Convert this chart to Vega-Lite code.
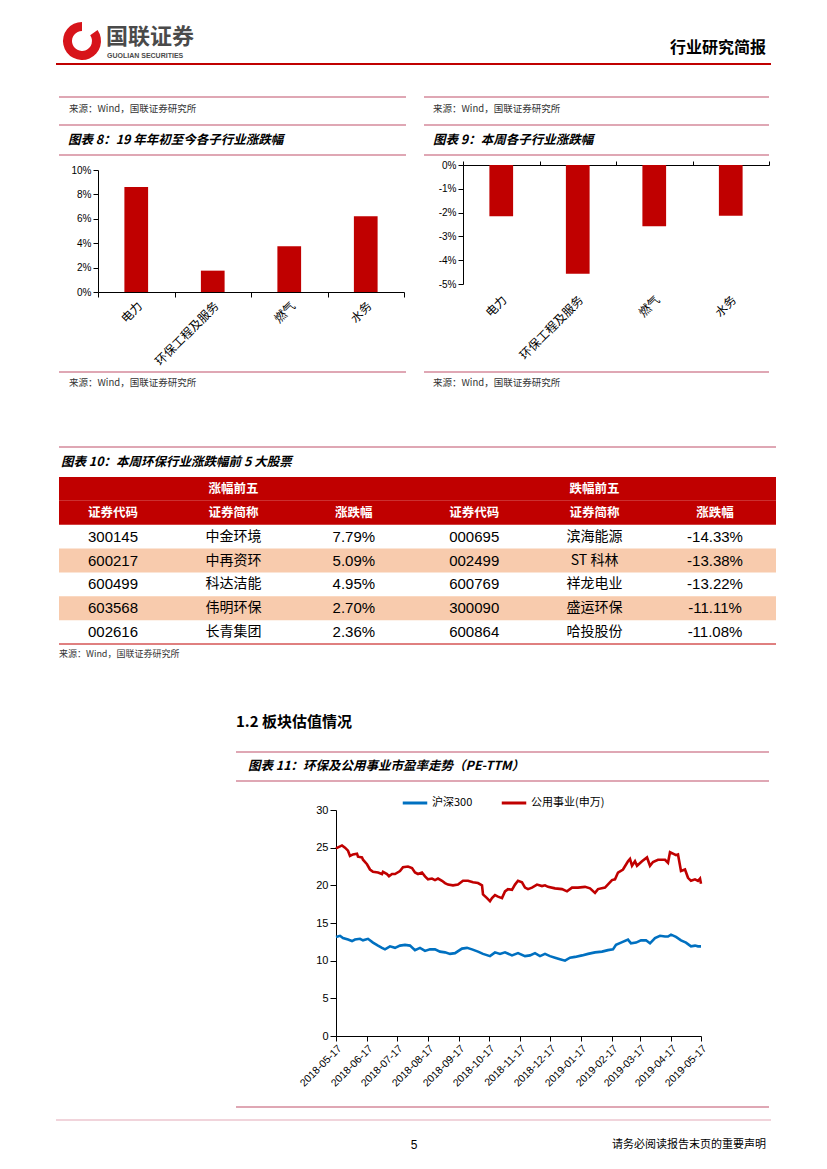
{
"$schema": "https://vega.github.io/schema/vega-lite/v6.json",
"padding": {"left": 55, "top": 20, "right": 0, "bottom": 0},
"background": "white",
"config": {"view": {"stroke": null}, "font": "Noto Sans CJK SC", "axis": {"labelColor": "#000", "domainColor": "#000", "tickColor": "#000", "grid": false, "title": null}},
"datasets": {
"one": [{}],
"logo": [{"seg": "gap", "share": 55}, {"seg": "ring", "share": 305}],
"ind8": [{"industry": "电力", "change": 0.086}, {"industry": "环保工程及服务", "change": 0.0175}, {"industry": "燃气", "change": 0.0375}, {"industry": "水务", "change": 0.062}],
"ind9": [{"industry": "电力", "change": -0.0215}, {"industry": "环保工程及服务", "change": -0.0457}, {"industry": "燃气", "change": -0.0257}, {"industry": "水务", "change": -0.0213}],
"bands": [{"row": "g", "kind": "head"}, {"row": "h", "kind": "head"}, {"row": "2", "kind": "stripe"}, {"row": "4", "kind": "stripe"}],
"cells": [
{"row": "g", "col": 2, "text": "涨幅前五"}, {"row": "g", "col": 5, "text": "跌幅前五"},
{"row": "h", "col": 1, "text": "证券代码"}, {"row": "h", "col": 2, "text": "证券简称"}, {"row": "h", "col": 3, "text": "涨跌幅"}, {"row": "h", "col": 4, "text": "证券代码"}, {"row": "h", "col": 5, "text": "证券简称"}, {"row": "h", "col": 6, "text": "涨跌幅"},
{"row": "1", "col": 1, "text": "300145"}, {"row": "1", "col": 2, "text": "中金环境"}, {"row": "1", "col": 3, "text": "7.79%"}, {"row": "1", "col": 4, "text": "000695"}, {"row": "1", "col": 5, "text": "滨海能源"}, {"row": "1", "col": 6, "text": "-14.33%"},
{"row": "2", "col": 1, "text": "600217"}, {"row": "2", "col": 2, "text": "中再资环"}, {"row": "2", "col": 3, "text": "5.09%"}, {"row": "2", "col": 4, "text": "002499"}, {"row": "2", "col": 5, "text": "ST 科林"}, {"row": "2", "col": 6, "text": "-13.38%"},
{"row": "3", "col": 1, "text": "600499"}, {"row": "3", "col": 2, "text": "科达洁能"}, {"row": "3", "col": 3, "text": "4.95%"}, {"row": "3", "col": 4, "text": "600769"}, {"row": "3", "col": 5, "text": "祥龙电业"}, {"row": "3", "col": 6, "text": "-13.22%"},
{"row": "4", "col": 1, "text": "603568"}, {"row": "4", "col": 2, "text": "伟明环保"}, {"row": "4", "col": 3, "text": "2.70%"}, {"row": "4", "col": 4, "text": "300090"}, {"row": "4", "col": 5, "text": "盛运环保"}, {"row": "4", "col": 6, "text": "-11.11%"},
{"row": "5", "col": 1, "text": "002616"}, {"row": "5", "col": 2, "text": "长青集团"}, {"row": "5", "col": 3, "text": "2.36%"}, {"row": "5", "col": 4, "text": "600864"}, {"row": "5", "col": 5, "text": "哈投股份"}, {"row": "5", "col": 6, "text": "-11.08%"}
],
"pe": [
{"date": "2018-05-17", "series": "公用事业(申万)", "pe": 24.9}, {"date": "2018-05-23", "series": "公用事业(申万)", "pe": 25.3}, {"date": "2018-05-26", "series": "公用事业(申万)", "pe": 25.0}, {"date": "2018-05-29", "series": "公用事业(申万)", "pe": 24.6}, {"date": "2018-05-31", "series": "公用事业(申万)", "pe": 23.9}, {"date": "2018-06-03", "series": "公用事业(申万)", "pe": 24.1}, {"date": "2018-06-07", "series": "公用事业(申万)", "pe": 24.2}, {"date": "2018-06-08", "series": "公用事业(申万)", "pe": 23.8}, {"date": "2018-06-12", "series": "公用事业(申万)", "pe": 23.7}, {"date": "2018-06-13", "series": "公用事业(申万)", "pe": 23.4}, {"date": "2018-06-17", "series": "公用事业(申万)", "pe": 22.8}, {"date": "2018-06-20", "series": "公用事业(申万)", "pe": 22.1}, {"date": "2018-06-23", "series": "公用事业(申万)", "pe": 21.8}, {"date": "2018-06-28", "series": "公用事业(申万)", "pe": 21.7}, {"date": "2018-07-02", "series": "公用事业(申万)", "pe": 21.5}, {"date": "2018-07-03", "series": "公用事业(申万)", "pe": 21.8}, {"date": "2018-07-07", "series": "公用事业(申万)", "pe": 21.5}, {"date": "2018-07-09", "series": "公用事业(申万)", "pe": 21.2}, {"date": "2018-07-12", "series": "公用事业(申万)", "pe": 21.5}, {"date": "2018-07-15", "series": "公用事业(申万)", "pe": 21.5}, {"date": "2018-07-20", "series": "公用事业(申万)", "pe": 21.9}, {"date": "2018-07-23", "series": "公用事业(申万)", "pe": 22.4}, {"date": "2018-07-28", "series": "公用事业(申万)", "pe": 22.5}, {"date": "2018-08-01", "series": "公用事业(申万)", "pe": 22.3}, {"date": "2018-08-04", "series": "公用事业(申万)", "pe": 21.7}, {"date": "2018-08-07", "series": "公用事业(申万)", "pe": 21.5}, {"date": "2018-08-11", "series": "公用事业(申万)", "pe": 21.7}, {"date": "2018-08-14", "series": "公用事业(申万)", "pe": 21.2}, {"date": "2018-08-17", "series": "公用事业(申万)", "pe": 20.8}, {"date": "2018-08-21", "series": "公用事业(申万)", "pe": 20.9}, {"date": "2018-08-24", "series": "公用事业(申万)", "pe": 20.7}, {"date": "2018-08-27", "series": "公用事业(申万)", "pe": 20.9}, {"date": "2018-08-31", "series": "公用事业(申万)", "pe": 20.6}, {"date": "2018-09-03", "series": "公用事业(申万)", "pe": 20.3}, {"date": "2018-09-06", "series": "公用事业(申万)", "pe": 20.1}, {"date": "2018-09-11", "series": "公用事业(申万)", "pe": 20.0}, {"date": "2018-09-16", "series": "公用事业(申万)", "pe": 20.1}, {"date": "2018-09-21", "series": "公用事业(申万)", "pe": 20.6}, {"date": "2018-09-26", "series": "公用事业(申万)", "pe": 20.6}, {"date": "2018-10-01", "series": "公用事业(申万)", "pe": 20.4}, {"date": "2018-10-06", "series": "公用事业(申万)", "pe": 20.3}, {"date": "2018-10-10", "series": "公用事业(申万)", "pe": 20.0}, {"date": "2018-10-11", "series": "公用事业(申万)", "pe": 18.8}, {"date": "2018-10-15", "series": "公用事业(申万)", "pe": 18.3}, {"date": "2018-10-18", "series": "公用事业(申万)", "pe": 17.9}, {"date": "2018-10-20", "series": "公用事业(申万)", "pe": 18.3}, {"date": "2018-10-23", "series": "公用事业(申万)", "pe": 18.7}, {"date": "2018-10-26", "series": "公用事业(申万)", "pe": 18.5}, {"date": "2018-10-30", "series": "公用事业(申万)", "pe": 18.3}, {"date": "2018-11-02", "series": "公用事业(申万)", "pe": 19.2}, {"date": "2018-11-05", "series": "公用事业(申万)", "pe": 19.5}, {"date": "2018-11-09", "series": "公用事业(申万)", "pe": 19.4}, {"date": "2018-11-12", "series": "公用事业(申万)", "pe": 20.1}, {"date": "2018-11-15", "series": "公用事业(申万)", "pe": 20.6}, {"date": "2018-11-19", "series": "公用事业(申万)", "pe": 20.4}, {"date": "2018-11-22", "series": "公用事业(申万)", "pe": 19.7}, {"date": "2018-11-25", "series": "公用事业(申万)", "pe": 19.5}, {"date": "2018-11-29", "series": "公用事业(申万)", "pe": 19.7}, {"date": "2018-12-04", "series": "公用事业(申万)", "pe": 20.1}, {"date": "2018-12-09", "series": "公用事业(申万)", "pe": 19.9}, {"date": "2018-12-12", "series": "公用事业(申万)", "pe": 20.0}, {"date": "2018-12-15", "series": "公用事业(申万)", "pe": 19.8}, {"date": "2018-12-22", "series": "公用事业(申万)", "pe": 19.6}, {"date": "2018-12-29", "series": "公用事业(申万)", "pe": 19.5}, {"date": "2019-01-03", "series": "公用事业(申万)", "pe": 19.2}, {"date": "2019-01-08", "series": "公用事业(申万)", "pe": 19.7}, {"date": "2019-01-14", "series": "公用事业(申万)", "pe": 19.7}, {"date": "2019-01-21", "series": "公用事业(申万)", "pe": 19.8}, {"date": "2019-01-26", "series": "公用事业(申万)", "pe": 19.6}, {"date": "2019-01-31", "series": "公用事业(申万)", "pe": 19.0}, {"date": "2019-02-03", "series": "公用事业(申万)", "pe": 19.5}, {"date": "2019-02-10", "series": "公用事业(申万)", "pe": 19.7}, {"date": "2019-02-17", "series": "公用事业(申万)", "pe": 20.7}, {"date": "2019-02-20", "series": "公用事业(申万)", "pe": 20.8}, {"date": "2019-02-23", "series": "公用事业(申万)", "pe": 21.7}, {"date": "2019-02-28", "series": "公用事业(申万)", "pe": 22.1}, {"date": "2019-03-05", "series": "公用事业(申万)", "pe": 23.2}, {"date": "2019-03-07", "series": "公用事业(申万)", "pe": 23.5}, {"date": "2019-03-09", "series": "公用事业(申万)", "pe": 22.6}, {"date": "2019-03-12", "series": "公用事业(申万)", "pe": 23.2}, {"date": "2019-03-14", "series": "公用事业(申万)", "pe": 22.6}, {"date": "2019-03-19", "series": "公用事业(申万)", "pe": 23.2}, {"date": "2019-03-24", "series": "公用事业(申万)", "pe": 23.7}, {"date": "2019-03-27", "series": "公用事业(申万)", "pe": 22.6}, {"date": "2019-03-30", "series": "公用事业(申万)", "pe": 23.1}, {"date": "2019-04-04", "series": "公用事业(申万)", "pe": 23.4}, {"date": "2019-04-11", "series": "公用事业(申万)", "pe": 23.4}, {"date": "2019-04-14", "series": "公用事业(申万)", "pe": 23.0}, {"date": "2019-04-16", "series": "公用事业(申万)", "pe": 24.4}, {"date": "2019-04-19", "series": "公用事业(申万)", "pe": 24.2}, {"date": "2019-04-22", "series": "公用事业(申万)", "pe": 24.0}, {"date": "2019-04-24", "series": "公用事业(申万)", "pe": 24.1}, {"date": "2019-04-27", "series": "公用事业(申万)", "pe": 21.9}, {"date": "2019-05-01", "series": "公用事业(申万)", "pe": 22.1}, {"date": "2019-05-04", "series": "公用事业(申万)", "pe": 21.0}, {"date": "2019-05-07", "series": "公用事业(申万)", "pe": 20.6}, {"date": "2019-05-11", "series": "公用事业(申万)", "pe": 20.8}, {"date": "2019-05-14", "series": "公用事业(申万)", "pe": 20.6}, {"date": "2019-05-16", "series": "公用事业(申万)", "pe": 20.9}, {"date": "2019-05-17", "series": "公用事业(申万)", "pe": 20.2},
{"date": "2018-05-17", "series": "沪深300", "pe": 13.15}, {"date": "2018-05-21", "series": "沪深300", "pe": 13.3}, {"date": "2018-05-24", "series": "沪深300", "pe": 13.0}, {"date": "2018-05-29", "series": "沪深300", "pe": 12.8}, {"date": "2018-06-02", "series": "沪深300", "pe": 12.6}, {"date": "2018-06-05", "series": "沪深300", "pe": 12.8}, {"date": "2018-06-10", "series": "沪深300", "pe": 12.9}, {"date": "2018-06-13", "series": "沪深300", "pe": 12.7}, {"date": "2018-06-18", "series": "沪深300", "pe": 12.9}, {"date": "2018-06-23", "series": "沪深300", "pe": 12.4}, {"date": "2018-06-28", "series": "沪深300", "pe": 12.0}, {"date": "2018-07-02", "series": "沪深300", "pe": 11.7}, {"date": "2018-07-05", "series": "沪深300", "pe": 11.5}, {"date": "2018-07-10", "series": "沪深300", "pe": 11.9}, {"date": "2018-07-15", "series": "沪深300", "pe": 11.7}, {"date": "2018-07-20", "series": "沪深300", "pe": 12.0}, {"date": "2018-07-25", "series": "沪深300", "pe": 12.1}, {"date": "2018-07-30", "series": "沪深300", "pe": 12.0}, {"date": "2018-08-04", "series": "沪深300", "pe": 11.4}, {"date": "2018-08-09", "series": "沪深300", "pe": 11.7}, {"date": "2018-08-14", "series": "沪深300", "pe": 11.3}, {"date": "2018-08-19", "series": "沪深300", "pe": 11.5}, {"date": "2018-08-24", "series": "沪深300", "pe": 11.5}, {"date": "2018-08-29", "series": "沪深300", "pe": 11.2}, {"date": "2018-09-03", "series": "沪深300", "pe": 11.1}, {"date": "2018-09-08", "series": "沪深300", "pe": 10.9}, {"date": "2018-09-13", "series": "沪深300", "pe": 11.0}, {"date": "2018-09-20", "series": "沪深300", "pe": 11.6}, {"date": "2018-09-25", "series": "沪深300", "pe": 11.7}, {"date": "2018-09-30", "series": "沪深300", "pe": 11.5}, {"date": "2018-10-06", "series": "沪深300", "pe": 11.2}, {"date": "2018-10-11", "series": "沪深300", "pe": 10.9}, {"date": "2018-10-18", "series": "沪深300", "pe": 10.6}, {"date": "2018-10-23", "series": "沪深300", "pe": 11.1}, {"date": "2018-10-28", "series": "沪深300", "pe": 10.9}, {"date": "2018-11-02", "series": "沪深300", "pe": 11.1}, {"date": "2018-11-09", "series": "沪深300", "pe": 10.7}, {"date": "2018-11-15", "series": "沪深300", "pe": 11.0}, {"date": "2018-11-22", "series": "沪深300", "pe": 10.6}, {"date": "2018-11-27", "series": "沪深300", "pe": 10.7}, {"date": "2018-12-02", "series": "沪深300", "pe": 11.0}, {"date": "2018-12-07", "series": "沪深300", "pe": 10.6}, {"date": "2018-12-12", "series": "沪深300", "pe": 10.9}, {"date": "2018-12-17", "series": "沪深300", "pe": 10.6}, {"date": "2018-12-22", "series": "沪深300", "pe": 10.4}, {"date": "2018-12-27", "series": "沪深300", "pe": 10.2}, {"date": "2019-01-01", "series": "沪深300", "pe": 10.0}, {"date": "2019-01-06", "series": "沪深300", "pe": 10.4}, {"date": "2019-01-11", "series": "沪深300", "pe": 10.5}, {"date": "2019-01-18", "series": "沪深300", "pe": 10.7}, {"date": "2019-01-24", "series": "沪深300", "pe": 10.9}, {"date": "2019-01-31", "series": "沪深300", "pe": 11.1}, {"date": "2019-02-07", "series": "沪深300", "pe": 11.2}, {"date": "2019-02-13", "series": "沪深300", "pe": 11.4}, {"date": "2019-02-18", "series": "沪深300", "pe": 11.5}, {"date": "2019-02-21", "series": "沪深300", "pe": 12.1}, {"date": "2019-02-26", "series": "沪深300", "pe": 12.4}, {"date": "2019-03-05", "series": "沪深300", "pe": 12.8}, {"date": "2019-03-08", "series": "沪深300", "pe": 12.3}, {"date": "2019-03-13", "series": "沪深300", "pe": 12.4}, {"date": "2019-03-18", "series": "沪深300", "pe": 12.7}, {"date": "2019-03-23", "series": "沪深300", "pe": 12.7}, {"date": "2019-03-27", "series": "沪深300", "pe": 12.3}, {"date": "2019-04-01", "series": "沪深300", "pe": 13.0}, {"date": "2019-04-06", "series": "沪深300", "pe": 13.3}, {"date": "2019-04-11", "series": "沪深300", "pe": 13.2}, {"date": "2019-04-14", "series": "沪深300", "pe": 13.2}, {"date": "2019-04-17", "series": "沪深300", "pe": 13.45}, {"date": "2019-04-22", "series": "沪深300", "pe": 13.15}, {"date": "2019-04-27", "series": "沪深300", "pe": 12.7}, {"date": "2019-05-02", "series": "沪深300", "pe": 12.4}, {"date": "2019-05-07", "series": "沪深300", "pe": 11.9}, {"date": "2019-05-11", "series": "沪深300", "pe": 12.0}, {"date": "2019-05-14", "series": "沪深300", "pe": 11.9}, {"date": "2019-05-17", "series": "沪深300", "pe": 11.9}
]
},
"data": {"name": "one"},
"spacing": 0,
"bounds": "flush",
"resolve": {"scale": {"color": "independent"}},
"vconcat": [
{"width": 715, "height": 44, "layer": [
 {"mark": {"type": "rule", "color": "#C00000", "strokeWidth": 2}, "encoding": {"y": {"datum": 44, "type": "quantitative", "scale": {"domain": [0, 44], "nice": false, "zero": false, "reverse": true}, "axis": null}}},
 {"data": {"name": "logo"}, "mark": {"type": "arc", "outerRadius": 19, "innerRadius": 10}, "encoding": {"x": {"datum": 26, "type": "quantitative", "scale": {"domain": [0, 715], "nice": false, "zero": false}, "axis": null}, "y": {"datum": 21, "type": "quantitative", "scale": {"domain": [0, 44], "nice": false, "zero": false, "reverse": true}, "axis": null}, "theta": {"field": "share", "type": "quantitative"}, "color": {"field": "seg", "type": "nominal", "scale": {"domain": ["gap", "ring"], "range": ["#ffffff", "#D7141A"]}, "legend": null}, "order": {"field": "seg", "type": "ordinal"}}},
 {"mark": {"type": "text", "align": "left", "baseline": "middle", "fontSize": 22, "fontWeight": "bold", "color": "#4a4a4a"}, "encoding": {"x": {"datum": 50, "type": "quantitative", "scale": {"domain": [0, 715], "nice": false, "zero": false}, "axis": null}, "y": {"datum": 17, "type": "quantitative", "scale": {"domain": [0, 44], "nice": false, "zero": false, "reverse": true}, "axis": null}, "text": {"value": "国联证券"}}},
 {"mark": {"type": "text", "align": "left", "baseline": "middle", "fontSize": 7, "fontWeight": "bold", "font": "Liberation Sans", "color": "#4a4a4a"}, "encoding": {"x": {"datum": 51, "type": "quantitative", "scale": {"domain": [0, 715], "nice": false, "zero": false}, "axis": null}, "y": {"datum": 36, "type": "quantitative", "scale": {"domain": [0, 44], "nice": false, "zero": false, "reverse": true}, "axis": null}, "text": {"value": "GUOLIAN SECURITIES"}}},
 {"mark": {"type": "text", "align": "right", "baseline": "middle", "fontSize": 16, "fontWeight": "bold", "color": "#000"}, "encoding": {"x": {"datum": 710, "type": "quantitative", "scale": {"domain": [0, 715], "nice": false, "zero": false}, "axis": null}, "y": {"datum": 28, "type": "quantitative", "scale": {"domain": [0, 44], "nice": false, "zero": false, "reverse": true}, "axis": null}, "text": {"value": "行业研究简报"}}}
]},
{"width": 715, "height": 336,
 "resolve": {"scale": {"x": "independent", "y": "independent", "color": "independent"}, "axis": {"x": "independent", "y": "independent"}},
 "layer": [
 {"mark": {"type": "rule", "color": "#C0506A", "strokeWidth": 1.2}, "encoding": {"x": {"datum": 3, "type": "quantitative", "scale": {"domain": [0, 715], "nice": false, "zero": false}, "axis": null}, "x2": {"datum": 350}, "y": {"datum": 33, "type": "quantitative", "scale": {"domain": [0, 336], "nice": false, "zero": false, "reverse": true}, "axis": null}}},
 {"mark": {"type": "rule", "color": "#C0506A", "strokeWidth": 1.2}, "encoding": {"x": {"datum": 368, "type": "quantitative", "scale": {"domain": [0, 715], "nice": false, "zero": false}, "axis": null}, "x2": {"datum": 713}, "y": {"datum": 33, "type": "quantitative", "scale": {"domain": [0, 336], "nice": false, "zero": false, "reverse": true}, "axis": null}}},
 {"mark": {"type": "rule", "color": "#C0506A", "strokeWidth": 1.2}, "encoding": {"x": {"datum": 3, "type": "quantitative", "scale": {"domain": [0, 715], "nice": false, "zero": false}, "axis": null}, "x2": {"datum": 350}, "y": {"datum": 61, "type": "quantitative", "scale": {"domain": [0, 336], "nice": false, "zero": false, "reverse": true}, "axis": null}}},
 {"mark": {"type": "rule", "color": "#C0506A", "strokeWidth": 1.2}, "encoding": {"x": {"datum": 368, "type": "quantitative", "scale": {"domain": [0, 715], "nice": false, "zero": false}, "axis": null}, "x2": {"datum": 713}, "y": {"datum": 61, "type": "quantitative", "scale": {"domain": [0, 336], "nice": false, "zero": false, "reverse": true}, "axis": null}}},
 {"mark": {"type": "rule", "color": "#C0506A", "strokeWidth": 1.2}, "encoding": {"x": {"datum": 3, "type": "quantitative", "scale": {"domain": [0, 715], "nice": false, "zero": false}, "axis": null}, "x2": {"datum": 350}, "y": {"datum": 91, "type": "quantitative", "scale": {"domain": [0, 336], "nice": false, "zero": false, "reverse": true}, "axis": null}}},
 {"mark": {"type": "rule", "color": "#C0506A", "strokeWidth": 1.2}, "encoding": {"x": {"datum": 368, "type": "quantitative", "scale": {"domain": [0, 715], "nice": false, "zero": false}, "axis": null}, "x2": {"datum": 713}, "y": {"datum": 91, "type": "quantitative", "scale": {"domain": [0, 336], "nice": false, "zero": false, "reverse": true}, "axis": null}}},
 {"mark": {"type": "rule", "color": "#C0506A", "strokeWidth": 1.2}, "encoding": {"x": {"datum": 3, "type": "quantitative", "scale": {"domain": [0, 715], "nice": false, "zero": false}, "axis": null}, "x2": {"datum": 350}, "y": {"datum": 308, "type": "quantitative", "scale": {"domain": [0, 336], "nice": false, "zero": false, "reverse": true}, "axis": null}}},
 {"mark": {"type": "rule", "color": "#C0506A", "strokeWidth": 1.2}, "encoding": {"x": {"datum": 368, "type": "quantitative", "scale": {"domain": [0, 715], "nice": false, "zero": false}, "axis": null}, "x2": {"datum": 713}, "y": {"datum": 308, "type": "quantitative", "scale": {"domain": [0, 336], "nice": false, "zero": false, "reverse": true}, "axis": null}}},
 {"mark": {"type": "text", "align": "left", "baseline": "middle", "fontSize": 9.5, "color": "#333"}, "encoding": {"x": {"datum": 13, "type": "quantitative", "scale": {"domain": [0, 715], "nice": false, "zero": false}, "axis": null}, "y": {"datum": 45, "type": "quantitative", "scale": {"domain": [0, 336], "nice": false, "zero": false, "reverse": true}, "axis": null}, "text": {"value": "来源：Wind，国联证券研究所"}}},
 {"mark": {"type": "text", "align": "left", "baseline": "middle", "fontSize": 9.5, "color": "#333"}, "encoding": {"x": {"datum": 377, "type": "quantitative", "scale": {"domain": [0, 715], "nice": false, "zero": false}, "axis": null}, "y": {"datum": 45, "type": "quantitative", "scale": {"domain": [0, 336], "nice": false, "zero": false, "reverse": true}, "axis": null}, "text": {"value": "来源：Wind，国联证券研究所"}}},
 {"mark": {"type": "text", "align": "left", "baseline": "middle", "fontSize": 9.5, "color": "#333"}, "encoding": {"x": {"datum": 13, "type": "quantitative", "scale": {"domain": [0, 715], "nice": false, "zero": false}, "axis": null}, "y": {"datum": 319, "type": "quantitative", "scale": {"domain": [0, 336], "nice": false, "zero": false, "reverse": true}, "axis": null}, "text": {"value": "来源：Wind，国联证券研究所"}}},
 {"mark": {"type": "text", "align": "left", "baseline": "middle", "fontSize": 9.5, "color": "#333"}, "encoding": {"x": {"datum": 377, "type": "quantitative", "scale": {"domain": [0, 715], "nice": false, "zero": false}, "axis": null}, "y": {"datum": 319, "type": "quantitative", "scale": {"domain": [0, 336], "nice": false, "zero": false, "reverse": true}, "axis": null}, "text": {"value": "来源：Wind，国联证券研究所"}}},
 {"mark": {"type": "text", "align": "left", "baseline": "middle", "fontSize": 12.5, "fontWeight": "bold", "fontStyle": "italic", "color": "#000"}, "encoding": {"x": {"datum": 12, "type": "quantitative", "scale": {"domain": [0, 715], "nice": false, "zero": false}, "axis": null}, "y": {"datum": 76, "type": "quantitative", "scale": {"domain": [0, 336], "nice": false, "zero": false, "reverse": true}, "axis": null}, "text": {"value": "图表 8：19 年年初至今各子行业涨跌幅"}}},
 {"mark": {"type": "text", "align": "left", "baseline": "middle", "fontSize": 12.5, "fontWeight": "bold", "fontStyle": "italic", "color": "#000"}, "encoding": {"x": {"datum": 377, "type": "quantitative", "scale": {"domain": [0, 715], "nice": false, "zero": false}, "axis": null}, "y": {"datum": 76, "type": "quantitative", "scale": {"domain": [0, 336], "nice": false, "zero": false, "reverse": true}, "axis": null}, "text": {"value": "图表 9：本周各子行业涨跌幅"}}},
 {"data": {"name": "ind8"}, "mark": {"type": "bar", "color": "#C00000", "width": {"band": 0.31}},
  "encoding": {
   "x": {"field": "industry", "type": "nominal", "sort": null, "scale": {"range": [42, 348], "paddingInner": 0, "paddingOuter": 0}, "axis": {"orient": "bottom", "offset": -108, "labelAngle": -45, "labelFontSize": 12, "labelFont": "Noto Sans CJK SC", "tickBand": "extent", "tickSize": 5, "labelPadding": 3}},
   "y": {"field": "change", "type": "quantitative", "scale": {"domain": [0, 0.1], "range": [228, 106], "nice": false}, "axis": {"orient": "left", "offset": -42, "values": [0, 0.02, 0.04, 0.06, 0.08, 0.1], "format": ".0%", "labelFont": "Liberation Sans", "labelFontSize": 10, "tickSize": 5}}
  }},
 {"data": {"name": "ind9"}, "mark": {"type": "bar", "color": "#C00000", "width": {"band": 0.31}},
  "encoding": {
   "x": {"field": "industry", "type": "nominal", "sort": null, "scale": {"range": [407, 713], "paddingInner": 0, "paddingOuter": 0}, "axis": {"orient": "bottom", "offset": -116, "domain": false, "ticks": false, "labelAngle": -45, "labelFontSize": 12, "labelFont": "Noto Sans CJK SC", "labelPadding": 10}},
   "y": {"field": "change", "type": "quantitative", "scale": {"domain": [-0.05, 0], "range": [220, 101], "nice": false}, "axis": {"orient": "left", "offset": -407, "values": [-0.05, -0.04, -0.03, -0.02, -0.01, 0], "labelExpr": "replace(format(datum.value, '.0%'), '\u2212', '-')", "labelFont": "Liberation Sans", "labelFontSize": 10, "tickSize": 5}}
  }},
 {"data": {"name": "ind9"}, "mark": {"type": "tick", "opacity": 0},
  "encoding": {"x": {"field": "industry", "type": "nominal", "sort": null, "scale": {"range": [407, 713], "paddingInner": 0, "paddingOuter": 0}, "axis": {"orient": "top", "offset": -101, "labels": false, "tickBand": "extent", "tickSize": 4}}}}
]},
{"width": 715, "height": 290,
 "resolve": {"scale": {"x": "independent", "y": "independent", "color": "independent"}, "axis": {"x": "independent", "y": "independent"}},
 "layer": [
 {"mark": {"type": "rule", "color": "#C0506A", "strokeWidth": 1.2}, "encoding": {"x": {"datum": 3, "type": "quantitative", "scale": {"domain": [0, 715], "nice": false, "zero": false}, "axis": null}, "x2": {"datum": 720}, "y": {"datum": 47, "type": "quantitative", "scale": {"domain": [0, 290], "nice": false, "zero": false, "reverse": true}, "axis": null}}},
 {"mark": {"type": "text", "align": "left", "baseline": "middle", "fontSize": 12.5, "fontWeight": "bold", "fontStyle": "italic", "color": "#000"}, "encoding": {"x": {"datum": 5, "type": "quantitative", "scale": {"domain": [0, 715], "nice": false, "zero": false}, "axis": null}, "y": {"datum": 62, "type": "quantitative", "scale": {"domain": [0, 290], "nice": false, "zero": false, "reverse": true}, "axis": null}, "text": {"value": "图表 10：本周环保行业涨跌幅前 5 大股票"}}},
 {"data": {"name": "bands"}, "mark": {"type": "rect"}, "encoding": {"x": {"datum": 3, "type": "quantitative", "scale": {"domain": [0, 715], "nice": false, "zero": false}, "axis": null}, "x2": {"datum": 720}, "y": {"field": "row", "type": "nominal", "scale": {"domain": ["g", "h", "1", "2", "3", "4", "5"], "range": [77, 244], "paddingInner": 0, "paddingOuter": 0}, "axis": null}, "color": {"field": "kind", "type": "nominal", "scale": {"domain": ["head", "stripe"], "range": ["#C00000", "#F8CBAD"]}, "legend": null}}},
 {"data": {"name": "cells"}, "transform": [{"filter": "datum.row == 'g' || datum.row == 'h'"}], "mark": {"type": "text", "color": "#ffffff", "fontWeight": "bold", "fontSize": 12.5}, "encoding": {"x": {"field": "col", "type": "quantitative", "scale": {"domain": [1, 6], "range": [57, 659], "nice": false, "zero": false}, "axis": null}, "y": {"field": "row", "type": "nominal", "scale": {"domain": ["g", "h", "1", "2", "3", "4", "5"], "range": [77, 244], "paddingInner": 0, "paddingOuter": 0}, "axis": null}, "text": {"field": "text"}}},
 {"data": {"name": "cells"}, "transform": [{"filter": "datum.row != 'g' && datum.row != 'h' && (datum.col == 2 || datum.col == 5)"}], "mark": {"type": "text", "color": "#000", "fontSize": 14}, "encoding": {"x": {"field": "col", "type": "quantitative", "scale": {"domain": [1, 6], "range": [57, 659], "nice": false, "zero": false}, "axis": null}, "y": {"field": "row", "type": "nominal", "scale": {"domain": ["g", "h", "1", "2", "3", "4", "5"], "range": [77, 244], "paddingInner": 0, "paddingOuter": 0}, "axis": null}, "text": {"field": "text"}}},
 {"data": {"name": "cells"}, "transform": [{"filter": "datum.row != 'g' && datum.row != 'h' && datum.col != 2 && datum.col != 5"}], "mark": {"type": "text", "color": "#000", "fontSize": 15, "font": "Liberation Sans"}, "encoding": {"x": {"field": "col", "type": "quantitative", "scale": {"domain": [1, 6], "range": [57, 659], "nice": false, "zero": false}, "axis": null}, "y": {"field": "row", "type": "nominal", "scale": {"domain": ["g", "h", "1", "2", "3", "4", "5"], "range": [77, 244], "paddingInner": 0, "paddingOuter": 0}, "axis": null}, "text": {"field": "text"}}},
 {"mark": {"type": "rule", "color": "#C00000", "strokeWidth": 1}, "encoding": {"x": {"datum": 3, "type": "quantitative", "scale": {"domain": [0, 715], "nice": false, "zero": false}, "axis": null}, "x2": {"datum": 720}, "y": {"datum": 244, "type": "quantitative", "scale": {"domain": [0, 290], "nice": false, "zero": false, "reverse": true}, "axis": null}}},
 {"mark": {"type": "text", "align": "left", "baseline": "middle", "fontSize": 9, "color": "#333"}, "encoding": {"x": {"datum": 3, "type": "quantitative", "scale": {"domain": [0, 715], "nice": false, "zero": false}, "axis": null}, "y": {"datum": 254, "type": "quantitative", "scale": {"domain": [0, 290], "nice": false, "zero": false, "reverse": true}, "axis": null}, "text": {"value": "来源：Wind，国联证券研究所"}}}
]},
{"width": 715, "height": 418,
 "resolve": {"scale": {"x": "independent", "y": "independent", "color": "independent"}, "axis": {"x": "independent", "y": "independent"}},
 "layer": [
 {"mark": {"type": "text", "align": "left", "baseline": "middle", "fontSize": 15, "fontWeight": "bold", "color": "#000"}, "encoding": {"x": {"datum": 180, "type": "quantitative", "scale": {"domain": [0, 715], "nice": false, "zero": false}, "axis": null}, "y": {"datum": 32, "type": "quantitative", "scale": {"domain": [0, 418], "nice": false, "zero": false, "reverse": true}, "axis": null}, "text": {"value": "1.2 板块估值情况"}}},
 {"mark": {"type": "rule", "color": "#C0506A", "strokeWidth": 1.2}, "encoding": {"x": {"datum": 180, "type": "quantitative", "scale": {"domain": [0, 715], "nice": false, "zero": false}, "axis": null}, "x2": {"datum": 713}, "y": {"datum": 62, "type": "quantitative", "scale": {"domain": [0, 418], "nice": false, "zero": false, "reverse": true}, "axis": null}}},
 {"mark": {"type": "text", "align": "left", "baseline": "middle", "fontSize": 12.5, "fontWeight": "bold", "fontStyle": "italic", "color": "#000"}, "encoding": {"x": {"datum": 192, "type": "quantitative", "scale": {"domain": [0, 715], "nice": false, "zero": false}, "axis": null}, "y": {"datum": 76, "type": "quantitative", "scale": {"domain": [0, 418], "nice": false, "zero": false, "reverse": true}, "axis": null}, "text": {"value": "图表 11：环保及公用事业市盈率走势（PE-TTM）"}}},
 {"mark": {"type": "rule", "color": "#C0506A", "strokeWidth": 1.2}, "encoding": {"x": {"datum": 180, "type": "quantitative", "scale": {"domain": [0, 715], "nice": false, "zero": false}, "axis": null}, "x2": {"datum": 713}, "y": {"datum": 91, "type": "quantitative", "scale": {"domain": [0, 418], "nice": false, "zero": false, "reverse": true}, "axis": null}}},
 {"mark": {"type": "rule", "color": "#C0506A", "strokeWidth": 1.2}, "encoding": {"x": {"datum": 180, "type": "quantitative", "scale": {"domain": [0, 715], "nice": false, "zero": false}, "axis": null}, "x2": {"datum": 713}, "y": {"datum": 417, "type": "quantitative", "scale": {"domain": [0, 418], "nice": false, "zero": false, "reverse": true}, "axis": null}}},
 {"data": {"name": "pe"}, "mark": {"type": "line", "strokeWidth": 2.6},
  "encoding": {
   "x": {"field": "date", "type": "temporal", "scale": {"type": "utc", "domain": [{"year": 2018, "month": 5, "date": 17, "utc": true}, {"year": 2019, "month": 5, "date": 17, "utc": true}], "range": [280, 645]},
    "axis": {"orient": "bottom", "offset": -72, "values": [{"year": 2018, "month": 5, "date": 17, "utc": true}, {"year": 2018, "month": 6, "date": 17, "utc": true}, {"year": 2018, "month": 7, "date": 17, "utc": true}, {"year": 2018, "month": 8, "date": 17, "utc": true}, {"year": 2018, "month": 9, "date": 17, "utc": true}, {"year": 2018, "month": 10, "date": 17, "utc": true}, {"year": 2018, "month": 11, "date": 17, "utc": true}, {"year": 2018, "month": 12, "date": 17, "utc": true}, {"year": 2019, "month": 1, "date": 17, "utc": true}, {"year": 2019, "month": 2, "date": 17, "utc": true}, {"year": 2019, "month": 3, "date": 17, "utc": true}, {"year": 2019, "month": 4, "date": 17, "utc": true}, {"year": 2019, "month": 5, "date": 17, "utc": true}],
     "labelExpr": "utcFormat(datum.value, '%Y-%m-%d')", "labelAngle": -45, "labelFont": "Liberation Sans", "labelFontSize": 10.5, "tickSize": 5, "labelPadding": 2, "labelOverlap": false, "labelFlush": false}},
   "y": {"field": "pe", "type": "quantitative", "scale": {"domain": [0, 30], "range": [346, 120], "nice": false}, "axis": {"orient": "left", "offset": -280, "values": [0, 5, 10, 15, 20, 25, 30], "labelFont": "Liberation Sans", "labelFontSize": 11, "tickSize": 6}},
   "color": {"field": "series", "type": "nominal", "scale": {"domain": ["沪深300", "公用事业(申万)"], "range": ["#0070C0", "#C00000"]}, "legend": {"orient": "none", "legendX": 345, "legendY": 99, "direction": "horizontal", "title": null, "symbolType": "stroke", "symbolStrokeWidth": 3, "symbolSize": 600, "labelFont": "Noto Sans CJK SC", "labelFontSize": 11, "labelColor": "#000", "columnPadding": 22, "labelOffset": 3}}
  }}
]},
{"width": 715, "height": 52, "layer": [
 {"mark": {"type": "rule", "color": "#E3A9B8", "strokeWidth": 1.2}, "encoding": {"y": {"datum": 12, "type": "quantitative", "scale": {"domain": [0, 52], "nice": false, "zero": false, "reverse": true}, "axis": null}}},
 {"mark": {"type": "text", "align": "center", "baseline": "middle", "fontSize": 12, "font": "Liberation Sans", "color": "#000"}, "encoding": {"x": {"datum": 358, "type": "quantitative", "scale": {"domain": [0, 715], "nice": false, "zero": false}, "axis": null}, "y": {"datum": 37, "type": "quantitative", "scale": {"domain": [0, 52], "nice": false, "zero": false, "reverse": true}, "axis": null}, "text": {"value": "5"}}},
 {"mark": {"type": "text", "align": "right", "baseline": "middle", "fontSize": 11, "color": "#000"}, "encoding": {"x": {"datum": 710, "type": "quantitative", "scale": {"domain": [0, 715], "nice": false, "zero": false}, "axis": null}, "y": {"datum": 37, "type": "quantitative", "scale": {"domain": [0, 52], "nice": false, "zero": false, "reverse": true}, "axis": null}, "text": {"value": "请务必阅读报告末页的重要声明"}}}
]}
]
}
